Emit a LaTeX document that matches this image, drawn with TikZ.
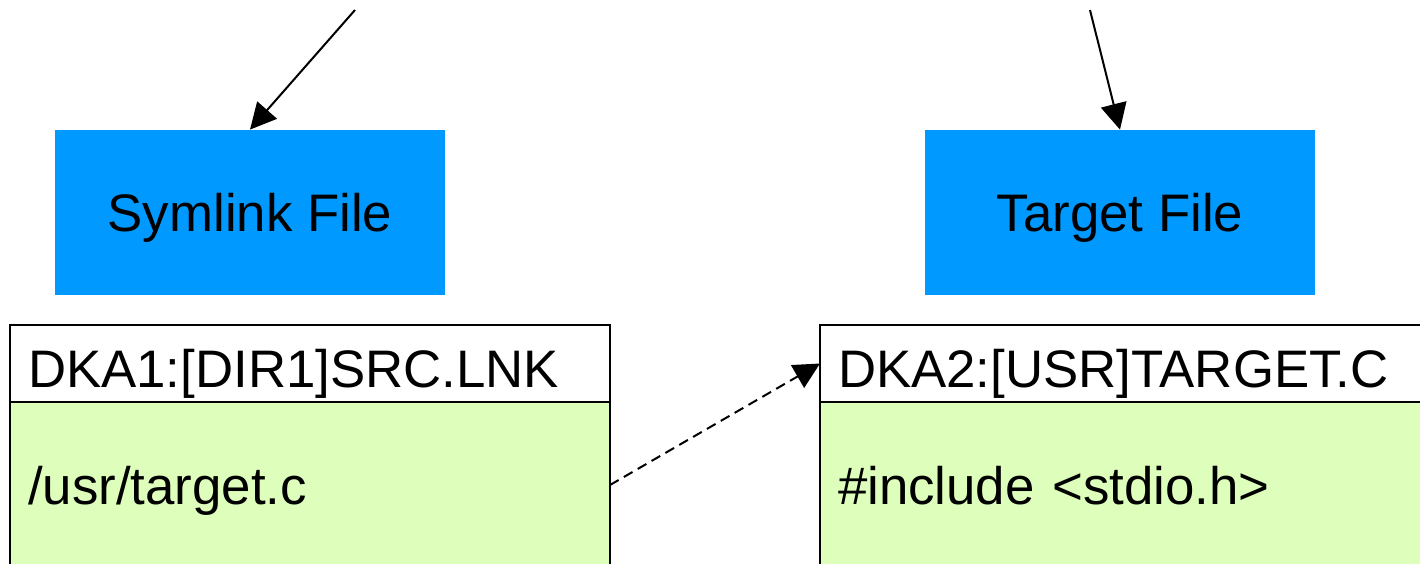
\documentclass[tikz,border=0pt]{standalone}
\usepackage{fontspec}
\setmainfont{Liberation Sans}
\usetikzlibrary{arrows.meta,positioning}
\definecolor{fileblue}{RGB}{0,153,255}
\definecolor{datagreen}{RGB}{221,255,187}

\begin{document}
\begin{tikzpicture}[x=0.5pt,y=-0.5pt,>={Triangle[length=13pt,width=13pt]},
    filebox/.style={fill=fileblue,minimum width=195pt,minimum height=82.5pt,inner sep=0pt,
        text height=19.4pt,text depth=0pt,font=\fontsize{26.4}{30}\selectfont},
    namebox/.style={draw,line width=1pt,fill=white,outer sep=0pt,minimum height=38.5pt,
        text width=282pt,inner xsep=9pt,inner ysep=0pt,align=left,
        text height=23.9pt,text depth=0pt,font=\fontsize{26.4}{30}\selectfont},
    databox/.style={namebox,fill=datagreen,minimum height=83pt,text height=19.9pt}]
    \useasboundingbox (0,0) rectangle (1420,563);
    % the two files
    \node[filebox] (symlink) at (250,212.5) {Symlink File};
    \node[filebox] (target) at (1120,212.5) {Target File};
    % their records: name on top, contents below
    \node[namebox,anchor=north west] (srcname) at (10,325) {DKA1:[DIR1]SRC.LNK};
    \node[databox,below=0pt of srcname] (srcdata) {/usr/target.c};
    \node[namebox,text width=284pt,anchor=north west] (tgtname) at (820,325) {DKA2:[USR]TARGET.C};
    \node[databox,text width=284pt,below=0pt of tgtname] (tgtdata) {\#include <stdio.h>};
    % incoming references
    \coordinate (symlinkin) at (355,10);
    \coordinate (targetin) at (1090,10);
    \draw[->,line width=1pt] (symlinkin) -- (symlink.north);
    \draw[->,line width=1pt] (targetin) -- (target.north);
    % the link points at the target
    \draw[->,line width=1pt,dash pattern=on 5pt off 3pt] (srcdata.east) -- (tgtname.west);
\end{tikzpicture}
\end{document}
